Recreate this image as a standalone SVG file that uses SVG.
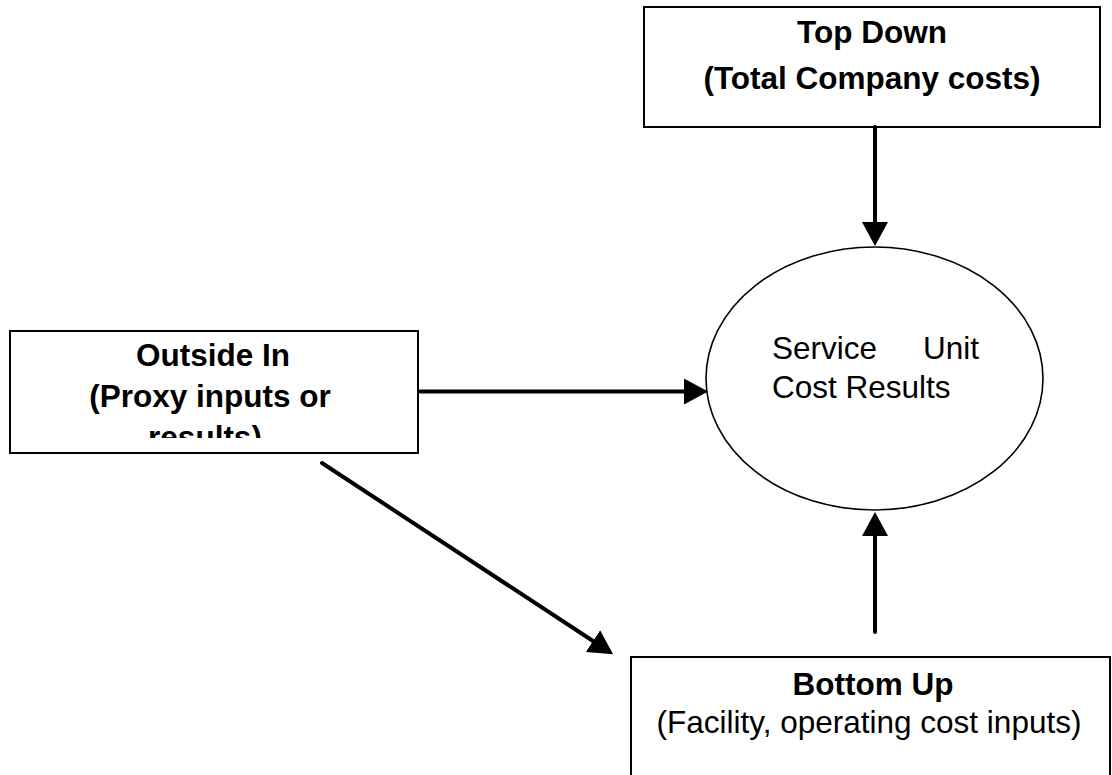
<svg xmlns="http://www.w3.org/2000/svg" width="1112" height="775" viewBox="0 0 1112 775">
  <style>
    .box { fill: #ffffff; stroke: #000000; stroke-width: 2; }
    .ell { fill: #ffffff; stroke: #000000; stroke-width: 1.6; }
    .t { font-family: "Liberation Sans", Arial, sans-serif; font-size: 31.5px; fill: #000000; }
    .b { font-weight: bold; }
    .mid { text-anchor: middle; }
    .conn { stroke: #000000; stroke-width: 4; fill: none; stroke-linecap: round; }
  </style>
  <defs>
    <marker id="head" viewBox="0 0 24 26" refX="0" refY="13" markerWidth="24" markerHeight="26" markerUnits="userSpaceOnUse" orient="auto">
      <path d="M0,0 L24,13 L0,26 Z" fill="#000000"/>
    </marker>
    <clipPath id="clipLeft">
      <rect x="10" y="331" width="408" height="107"/>
    </clipPath>
  </defs>
  <rect width="1112" height="775" fill="#ffffff"/>

  <g id="top-down">
    <rect class="box" x="644" y="7" width="456" height="120"/>
    <text class="t b mid" x="872" y="43">Top Down</text>
    <text class="t b mid" x="872" y="89">(Total Company costs)</text>
  </g>

  <g id="outside-in">
    <rect class="box" x="10" y="331" width="408" height="122"/>
    <g clip-path="url(#clipLeft)">
      <text class="t b mid" x="213" y="366">Outside In</text>
      <text class="t b mid" x="210" y="407">(Proxy inputs or</text>
      <text class="t b mid" x="205" y="448">results)</text>
    </g>
  </g>

  <g id="service-unit-cost">
    <ellipse class="ell" cx="874.5" cy="378.5" rx="168.5" ry="131.5"/>
    <text class="t" x="772" y="359">Service</text>
    <text class="t" x="923" y="359">Unit</text>
    <text class="t" x="772" y="398">Cost Results</text>
  </g>

  <g id="bottom-up">
    <rect class="box" x="631" y="657" width="479" height="140"/>
    <text class="t b mid" x="873" y="695">Bottom Up</text>
    <text class="t mid" x="869" y="733">(Facility, operating cost inputs)</text>
  </g>

  <g id="connectors">
    <line class="conn" x1="875" y1="127" x2="875" y2="222" marker-end="url(#head)"/>
    <line class="conn" x1="420" y1="391.5" x2="684" y2="391.5" marker-end="url(#head)"/>
    <line class="conn" x1="875" y1="632" x2="875" y2="536" marker-end="url(#head)"/>
    <line class="conn" x1="322" y1="463" x2="593" y2="641" marker-end="url(#head)"/>
  </g>
</svg>
